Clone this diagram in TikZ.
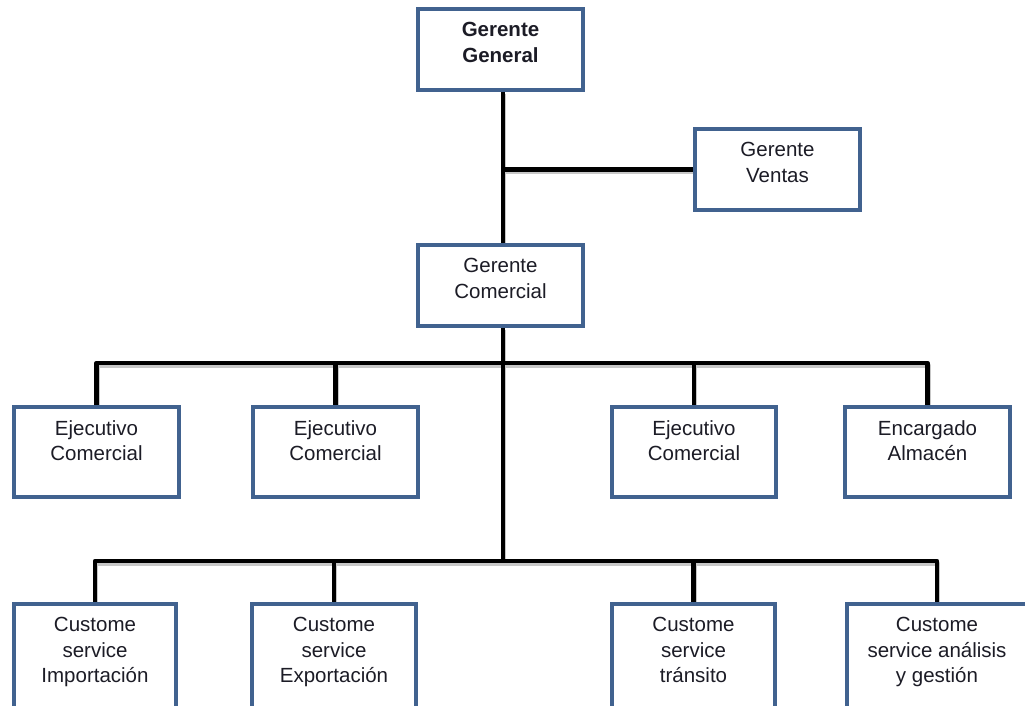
\documentclass[tikz,border=0pt]{standalone}
\usepackage{fontspec}
\setmainfont{Liberation Sans}
\usetikzlibrary{shadows,backgrounds}
\definecolor{boxblue}{RGB}{65,98,143}
\definecolor{ink}{RGB}{28,28,38}
% every connector of the chart, drawn with the style given as argument
\newcommand\orgconnectors[1]{%
  \draw[#1] ([xshift=2.5pt]gg.south) -- ([xshift=2.5pt]gc.north);
  \draw[#1] (gv.west) -- (gv.west -| bus1);
  \draw[#1] ([xshift=2.5pt]gc.south) -- (bus2);
  \draw[#1] (e1.north) |- (bus1) -| (e4.north);
  \draw[#1] (e2.north) -- (e2.north |- bus1);
  \draw[#1] (e3.north) -- (e3.north |- bus1);
  \draw[#1] (c1.north) |- (bus2) -| (c4.north);
  \draw[#1] (c2.north) -- (c2.north |- bus2);
  \draw[#1] (c3.north) -- (c3.north |- bus2);
}
\begin{document}
\begin{tikzpicture}[x=1pt,y=-1pt,
  orgbox/.style={rectangle, draw=boxblue, line width=4pt, fill=white, inner sep=0pt,
    drop shadow={opacity=0.22, shadow xshift=1.2pt, shadow yshift=-1.8pt}},
  boxlabel/.style={anchor=north, inner sep=0pt, align=center, text=ink,
    font=\fontsize{20.5}{25.5}\selectfont, yshift=-15.3pt},
  link/.style={line width=4.5pt, line join=round, draw=black},
  linkshade/.style={line width=5pt, line join=round, draw=black!22,
    transform canvas={xshift=0.8pt, yshift=-2.2pt}}
]
\useasboundingbox (0,0) rectangle (1025,706);
\clip (0,0) rectangle (1025,706);

% top of the chart
\node[orgbox, minimum width=165pt, minimum height=81pt] (gg) at (500.5,49.5) {};
\node[orgbox, minimum width=165pt, minimum height=81pt] (gv) at (777.5,169.5) {};
\node[orgbox, minimum width=165pt, minimum height=81pt] (gc) at (500.5,285.5) {};

% second level
\node[orgbox, minimum width=165pt, minimum height=90pt] (e1) at (96.5,452) {};
\node[orgbox, minimum width=165pt, minimum height=90pt] (e2) at (335.5,452) {};
\node[orgbox, minimum width=164pt, minimum height=90pt] (e3) at (694,452) {};
\node[orgbox, minimum width=165pt, minimum height=90pt] (e4) at (927.5,452) {};

% third level
\node[orgbox, minimum width=162pt, minimum height=116pt] (c1) at (95,662) {};
\node[orgbox, minimum width=164pt, minimum height=116pt] (c2) at (334,662) {};
\node[orgbox, minimum width=163pt, minimum height=116pt] (c3) at (693.5,662) {};
\node[orgbox, minimum width=180pt, minimum height=116pt] (c4) at (937,662) {};

% labels
\node[boxlabel, font=\fontsize{20.5}{25.5}\selectfont\bfseries] (gg-t) at (gg.north) {Gerente\\General};
\node[boxlabel] (gv-t) at (gv.north) {Gerente\\Ventas};
\node[boxlabel] (gc-t) at (gc.north) {Gerente\\Comercial};
\node[boxlabel] (e1-t) at (e1.north) {Ejecutivo\\Comercial};
\node[boxlabel] (e2-t) at (e2.north) {Ejecutivo\\Comercial};
\node[boxlabel] (e3-t) at (e3.north) {Ejecutivo\\Comercial};
\node[boxlabel] (e4-t) at (e4.north) {Encargado\\Almacén};
\node[boxlabel] (c1-t) at (c1.north) {Custome\\service\\Importación};
\node[boxlabel] (c2-t) at (c2.north) {Custome\\service\\Exportación};
\node[boxlabel] (c3-t) at (c3.north) {Custome\\service\\tránsito};
\node[boxlabel] (c4-t) at (c4.north) {Custome\\service análisis\\y gestión};

% bus lines
\coordinate (bus1) at (503,363);
\coordinate (bus2) at (503,561);

\begin{scope}[on background layer]
  \orgconnectors{linkshade}
  \orgconnectors{link}
\end{scope}
\end{tikzpicture}
\end{document}
